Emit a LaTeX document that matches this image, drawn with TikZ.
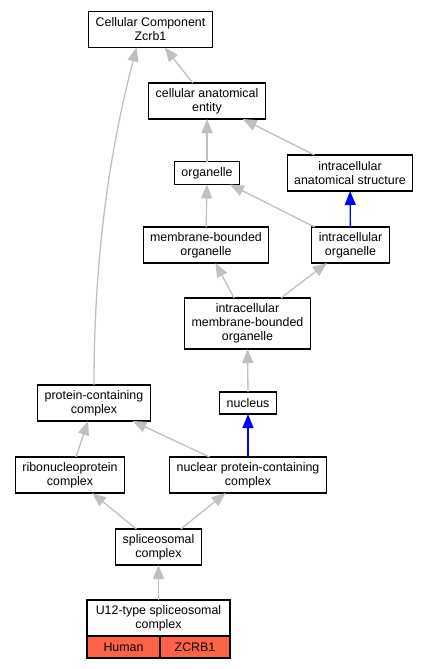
\documentclass[tikz,border=0pt]{standalone}
\usepackage{fontspec}
\setmainfont{Liberation Sans}
\usetikzlibrary{positioning, arrows.meta}
\definecolor{edgegray}{RGB}{192,192,192}
\definecolor{tomatored}{RGB}{255,99,71}
\tikzset{
x=1pt, y=1pt,
term/.style={draw=black, line width=1.2pt, fill=white, align=center, inner xsep=7pt, inner ysep=0pt, outer sep=0pt, font=\fontsize{12.4}{14}\selectfont}, % every GO term box
one/.style={term, minimum height=23pt},
two/.style={term, minimum height=36pt},
three/.style={term, minimum height=51pt},
cell/.style={term, fill=tomatored, minimum height=22pt, inner xsep=0pt}, % species / gene row
isa/.style={draw=edgegray, line width=1.3pt, -{Triangle[length=14pt,width=11pt]}},
partof/.style={draw=blue, line width=1.3pt, -{Triangle[length=14pt,width=11pt]}},
}
\begin{document}
\begin{tikzpicture}
\useasboundingbox (0,0) rectangle (431,-669);
\node[two] (cc) at (150.5,-29.5) {Cellular Component\\Zcrb1};
\node[two] (cae) at (207,-101) {cellular anatomical\\entity};
\node[one] (org) at (207,-173) {organelle};
\node[two] (ias) at (350,-173) {intracellular\\anatomical structure};
\node[two] (mbo) at (206,-245) {membrane-bounded\\organelle};
\node[two] (io) at (350.5,-245) {intracellular\\organelle};
\node[three] (imbo) at (247.5,-323.5) {intracellular\\membrane-bounded\\organelle};
\node[one, minimum height=22pt] (nuc) at (248,-403) {nucleus};
\node[two] (pcc) at (94,-403) {protein-containing\\complex};
\node[two] (rnp) at (70,-475) {ribonucleoprotein\\complex};
\node[two] (npcc) at (248,-475) {nuclear protein-containing\\complex};
\node[two] (spl) at (158.5,-547) {spliceosomal\\complex};
\node[two, minimum width=143pt] (u12) at (158.5,-618) {U12-type spliceosomal\\complex};
\node[cell, minimum width=73pt, anchor=north west] (human) at (u12.south west) {Human};
\node[cell, minimum width=70pt, anchor=north west] (gene) at (human.north east) {ZCRB1};

\path[isa] (cae) -- (cc);
\path[isa] (pcc.north) .. controls +(0,160) and +(-18,-70) .. ([xshift=-14pt]cc.south);
\path[isa] (org) -- (cae);
\path[isa] (ias) -- (cae);
\path[isa] (mbo) -- (org);
\path[isa] (io) -- (org);
\path[partof] (io) -- (ias);
\path[isa] (imbo) -- (mbo);
\path[isa] (imbo) -- (io);
\path[isa] (nuc) -- (imbo);
\path[partof] (npcc) -- (nuc);
\path[isa] (npcc) -- (pcc);
\path[isa] (rnp) -- (pcc);
\path[isa] (spl) -- (rnp);
\path[isa] (spl) -- (npcc);
\path[isa] (u12) -- (spl);
\end{tikzpicture}
\end{document}
